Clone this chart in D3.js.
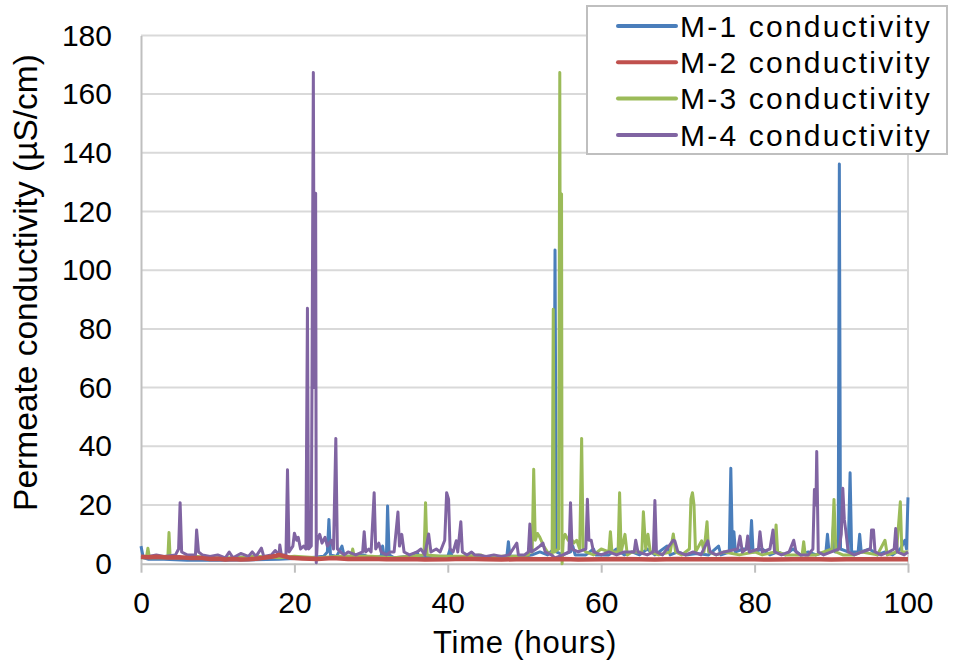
<!DOCTYPE html>
<html>
<head>
<meta charset="utf-8">
<script src="https://cdn.jsdelivr.net/npm/d3@7"></script>
<style>
  body { margin: 0; background: #fff; }
  svg { display: block; font-family: "Liberation Sans", Arial, sans-serif; }
</style>
</head>
<body>
<div id="chart"></div>
<script>
// [time (h), conductivity (µS/cm)]
const m1Data = [
  [0,6],[0.3,2],[1,1.5],[3,1.5],[6,1.2],[10,1.2],[14,1.3],[18,1.5],[20,1.8],[22,2],[23.8,2.5],[24.3,4],[24.5,15.1],[24.7,3],
  [25.5,2.5],[26.2,6],[26.5,2.5],[28,2.5],[29,3],[30,2],[31.3,2.5],[31.5,6],[31.7,2.5],[32,3],[32.15,19.7],[32.35,3],[33,2],
  [35,2.5],[36,4],[36.3,2],[38,2.5],[40,2.5],[40.3,5],[40.6,2],[42,2],[44,2.5],[46,2],[47.7,2.5],[47.9,7.5],[48.1,2.5],[50,2.5],
  [51,3],[52,4],[53,3],[53.8,5],[53.98,106.9],[54.15,4],[55,3],[56,4],[56.3,6],[56.6,3],[58,3],[59,5],[59.3,3],[61,3],[62,5],
  [63,3],[64,4],[65,3],[66,5],[67,3],[68.6,6],[69,3],[70,4],[71,3],[72.5,3.5],[74,3],[75.3,6],[75.6,3],[76.7,4],[76.9,32.5],
  [77.1,5],[77.3,10.9],[77.5,4],[78.5,5],[79.4,5],[79.6,14.7],[79.8,4],[81,5],[82,3],[83,4],[84,3],[85,5],[86,3],[87,4],[88,3],
  [89.3,4],[89.5,10],[89.7,4],[90.1,5],[90.3,13.5],[90.5,4],[90.9,5],[91.05,136.2],[91.2,5],[92.2,4],[92.45,31],[92.65,4],
  [93.5,4],[93.7,10],[93.9,4],[95,5],[96,3],[97,4],[98,3],[99,5],[99.6,8],[99.8,5],[100,22.6]
]
const m2Data = [
  [0,2.4],[1,2.2],[2,2.4],[3.5,2.1],[5,2.2],[6.5,1.9],[8,1.9],[9,1.6],[10,1.7],[11,1.4],[12,1.6],[13,1.4],[14,1.5],[15,1.7],
  [16,2],[17,2.4],[17.5,2.6],[18,3],[18.6,2.6],[19.5,2],[21,1.8],[23,1.6],[25,1.9],[27,1.6],[30,1.7],[32,1.5],[35,1.6],
  [37,1.4],[40,1.5],[42,1.7],[45,1.5],[47,1.4],[50,1.6],[52,1.5],[55,1.6],[57,1.4],[60,1.5],[62,1.6],[65,1.5],[67,1.4],
  [70,1.6],[72,1.5],[75,1.5],[77,1.6],[80,1.5],[82,1.4],[85,1.5],[87,1.6],[90,1.4],[92,1.5],[95,1.5],[97,1.6],[100,1.5]
]
const m3Data = [
  [0,2],[0.7,2],[0.9,5.3],[1.1,2],[2,2],[3.5,2],[3.65,10.6],[3.8,2],[5,2],[7,2.5],[9,2],[12,2],[15,2.5],[18,2],[20,2.5],
  [23,2],[26,2.5],[27.4,2.5],[27.6,5],[27.8,2.5],[30,2.5],[33,2],[35,2.5],[36.9,3],[37.1,20.8],[37.3,3],[39,2.5],[42,2.5],
  [44.3,3],[45,2],[47,2.5],[49,2.5],[50.5,3],[50.8,5],[51,4],[51.2,32.2],[51.4,8],[51.7,10.3],[52,9],[52.5,6],[53,4],
  [53.6,3],[53.75,86.7],[53.9,4],[54.45,5],[54.6,167.4],[54.7,40],[54.83,126],[54.9,0],[55.05,8],[55.3,10],[55.7,8],[56,9],
  [56.4,7],[56.8,8],[57.2,5],[57.45,42.7],[57.65,5],[58,4],[59,3],[60,5],[61,4],[61.2,10.9],[61.4,4],[62.2,4],[62.4,24.2],
  [62.6,4],[63.1,10],[63.4,3],[64,4],[65.3,4],[65.5,17.7],[65.8,5],[66.1,10],[66.4,4],[67.5,3],[69,4],[69.4,10.1],[69.7,4],
  [70.5,3],[71.5,5],[71.7,22],[71.9,24.2],[72.1,20],[72.3,4],[73.1,7.8],[73.4,4],[73.8,14.3],[74,4],[75,3],[76,4],[78,3],
  [80,4],[81,3],[82.6,4],[82.8,13.2],[83,4],[84,3],[86.2,3],[86.4,7.5],[86.6,3],[88,3],[89,4],[90.1,5],[90.35,21.9],
  [90.6,4],[91.5,3],[93,3],[94,4],[96,3],[97,8],[97.3,3],[98.5,4],[99,21.1],[99.2,4],[100,4]
]
const m4Data = [
  [0,2],[1,2.5],[2,3],[3,2.5],[4.5,3],[4.9,5],[5.1,20.8],[5.3,4],[6,3],[7.1,3],[7.25,11.5],[7.5,4],[8,3],[9,2.5],[10,3],
  [11,2],[11.5,4],[12,2],[13,3.5],[14,2.5],[14.5,4],[15,2.5],[15.7,5.3],[16,2.5],[17,3],[17.5,4.5],[18,3],[18.1,6.4],
  [18.3,3],[18.9,3],[19.1,32],[19.3,4],[19.8,6],[20,10.4],[20.3,8],[20.5,9],[20.8,5],[21.2,6],[21.5,5],[21.7,87],[21.85,5],
  [22.2,6],[22.47,167.4],[22.6,60],[22.77,126.2],[22.85,0.3],[23,8],[23.3,10],[23.6,7],[24,9],[24.3,6],[24.8,8],[25.1,5],
  [25.4,42.7],[25.6,5],[26,4],[26.5,3],[27,4],[28,3],[28.9,4],[29.1,10.9],[29.3,4],[29.7,5],[30,4],[30.4,24.2],[30.6,5],
  [31,7],[31.3,4],[32,3],[32.5,4],[33,4],[33.5,17.6],[33.7,6],[34,10],[34.3,4],[35,3],[36,4],[36.5,5],[37,3],[37.5,10.1],
  [37.8,4],[38.5,5],[39,4],[39.6,8],[39.85,24.2],[40.1,22],[40.3,5],[40.7,4],[41.1,7.8],[41.3,4],[41.7,14.3],[41.9,4],
  [42.5,3],[43.1,4],[43.5,3],[44,3],[45,2.5],[46,3],[47,2.5],[48,3],[49,7],[49.2,3],[50,3],[50.5,4],[50.7,13.5],[50.9,4],
  [51.5,5],[52,6],[52.4,7],[52.7,4],[53.5,3],[54,2],[55,3],[55.8,4],[56,20.8],[56.2,5],[57,4],[58,5],[58.2,22],[58.4,8],
  [58.7,8],[59,4],[60,3],[61,4],[62,3],[63,4],[64.3,4],[64.5,8],[64.8,4],[66,3],[66.8,4],[67,21.5],[67.2,4],[68,3],[69.4,8],
  [69.6,7.8],[70,4],[71,3],[72,4],[73,3],[73.9,7.8],[74.2,4],[75,3],[76,4],[77.8,5],[78.1,9.4],[78.4,4],[78.9,5],[79.1,9.4],
  [79.3,4],[80.5,5],[80.7,10.9],[81,4],[82,5],[82.4,11.5],[82.6,4],[83.5,3],[84.5,4],[85.1,8],[85.4,4],[86,3],[87,3],
  [87.6,5],[87.8,25.3],[88,20],[88.1,38.2],[88.3,4],[89,3],[90,4],[91,5],[91.3,10],[91.5,25.7],[91.7,15],[91.9,11],[92.2,4],
  [93,3],[94,4],[95.1,5],[95.25,11.5],[95.5,11.5],[95.7,4],[96.5,3],[97.5,4],[98.2,5],[98.4,12],[98.6,4],[99.5,3],[100,4]
]

const seriesNames = ["M-1 conductivity", "M-2 conductivity", "M-3 conductivity", "M-4 conductivity"]
const seriesColors = ["#4a7ebb", "#c0504d", "#9bbb59", "#8064a2"]
const xTicks = [0, 20, 40, 60, 80, 100]
const yTicks = [0, 20, 40, 60, 80, 100, 120, 140, 160, 180]

const MARGIN = { TOP: 35.4, LEFT: 141, RIGHT: 51, BOTTOM: 97.3 }
const WIDTH = 959 - MARGIN.LEFT - MARGIN.RIGHT
const HEIGHT = 661 - MARGIN.TOP - MARGIN.BOTTOM
const AXIS_GREY = "#bfbfbf"
const GRID_GREY = "#d9d9d9"

const svg = d3.select("#chart")
              .append("svg")
              .attr("width", 959)
              .attr("height", 661)

const g = svg.append("g")
             .attr("transform", `translate(${MARGIN.LEFT}, ${MARGIN.TOP})`)

const x = d3.scaleLinear().domain([0, 100]).range([0, WIDTH])
const y = d3.scaleLinear().domain([0, 180]).range([HEIGHT, 0])

// gridlines
g.append("g")
 .selectAll("line")
 .data(yTicks.filter(d => d > 0))
 .enter()
 .append("line")
 .attr("x1", 0)
 .attr("x2", WIDTH)
 .attr("y1", d => y(d))
 .attr("y2", d => y(d))
 .attr("stroke", GRID_GREY)
 .attr("stroke-width", 2)

// right border of plot area
g.append("line")
 .attr("x1", WIDTH).attr("x2", WIDTH)
 .attr("y1", 0).attr("y2", HEIGHT)
 .attr("stroke", GRID_GREY)
 .attr("stroke-width", 2)

// y axis
const yAxis = g.append("g")
               .call(d3.axisLeft(y).tickValues(yTicks).tickSize(0).tickPadding(29))
yAxis.select(".domain").attr("stroke", AXIS_GREY).attr("stroke-width", 2)
yAxis.selectAll("text")
     .attr("font-size", 30)
     .attr("font-family", "Liberation Sans, Arial, sans-serif")
     .attr("fill", "#000")

// x axis
const xAxis = g.append("g")
               .attr("transform", `translate(0, ${HEIGHT})`)
               .call(d3.axisBottom(x).tickValues(xTicks).tickSizeInner(9).tickSizeOuter(0).tickPadding(19))
xAxis.select(".domain").attr("stroke", AXIS_GREY).attr("stroke-width", 2)
xAxis.selectAll(".tick line").attr("stroke", AXIS_GREY).attr("stroke-width", 2)
xAxis.selectAll("text")
     .attr("font-size", 30)
     .attr("font-family", "Liberation Sans, Arial, sans-serif")
     .attr("fill", "#000")

// series lines
const line = d3.line()
               .x(d => x(d[0]))
               .y(d => y(d[1]))

const allSeries = [m1Data, m2Data, m3Data, m4Data]
const drawOrder = [0, 2, 3, 1]
drawOrder.forEach(i => {
  g.append("path")
   .datum(allSeries[i])
   .attr("d", line)
   .attr("fill", "none")
   .attr("stroke", seriesColors[i])
   .attr("stroke-width", i === 1 ? 4.5 : 3)
   .attr("stroke-linejoin", "round")
})

// axis titles
svg.append("text")
   .attr("transform", "translate(37, 282.5) rotate(-90)")
   .attr("text-anchor", "middle")
   .attr("font-size", 33.5)
   .text("Permeate conductivity (µS/cm)")

svg.append("text")
   .attr("x", 525)
   .attr("y", 653)
   .attr("text-anchor", "middle")
   .attr("font-size", 31)
   .attr("letter-spacing", 0.8)
   .text("Time (hours)")

// legend
const legend = svg.append("g")
legend.append("rect")
      .attr("x", 587)
      .attr("y", 6)
      .attr("width", 360)
      .attr("height", 148)
      .attr("fill", "#fff")
      .attr("stroke", AXIS_GREY)
      .attr("stroke-width", 2)

const rows = legend.selectAll(".row")
                   .data(seriesNames)
                   .enter()
                   .append("g")
                   .attr("transform", (d, i) => `translate(0, ${26 + i * 36.3})`)
rows.append("line")
    .attr("x1", 618).attr("x2", 676)
    .attr("stroke", (d, i) => seriesColors[i])
    .attr("stroke-width", 4)
    .attr("stroke-linecap", "round")
rows.append("text")
    .attr("x", 680)
    .attr("y", 10.7)
    .attr("font-size", 30)
    .attr("letter-spacing", 2.2)
    .text(d => d)
</script>
</body>
</html>
